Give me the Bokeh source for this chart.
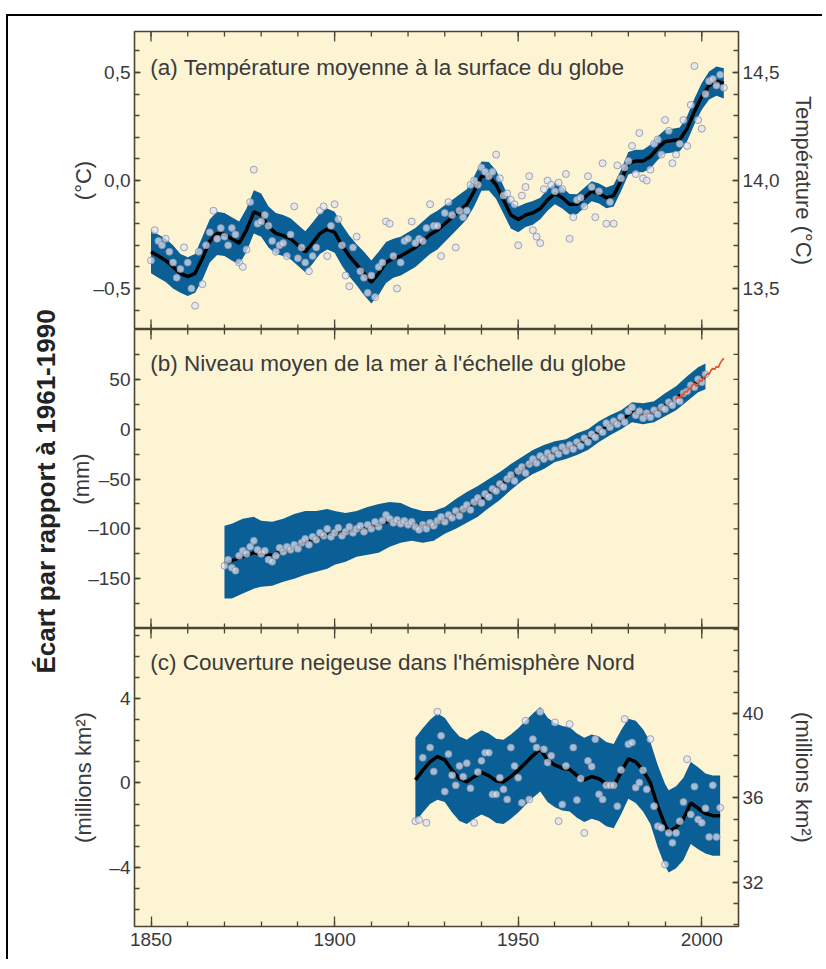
import math
import numpy as np
from bokeh.plotting import figure
from bokeh.layouts import row, column
from bokeh.models import Range1d, LinearAxis, FixedTicker, Label
from bokeh.embed import file_html
from bokeh.resources import INLINE

# ---------------- data ----------------
temp_years = list(range(1850, 2007))
temp_anom = [
    -0.37, -0.23, -0.28, -0.30, -0.27, -0.33, -0.38, -0.45, -0.41, -0.31,
    -0.38, -0.50, -0.58, -0.33, -0.48, -0.30, -0.24, -0.14, -0.27, -0.22,
    -0.26, -0.30, -0.22, -0.25, -0.38, -0.40, -0.32, -0.10, 0.05, -0.20,
    -0.19, -0.16, -0.21, -0.28, -0.33, -0.30, -0.29, -0.35, -0.25, -0.12,
    -0.36, -0.31, -0.38, -0.42, -0.35, -0.31, -0.14, -0.12, -0.35, -0.21,
    -0.11, -0.18, -0.30, -0.44, -0.49, -0.31, -0.26, -0.42, -0.45, -0.52,
    -0.44, -0.54, -0.40, -0.38, -0.19, -0.20, -0.35, -0.50, -0.38, -0.28,
    -0.27, -0.19, -0.29, -0.27, -0.28, -0.22, -0.11, -0.21, -0.21, -0.35,
    -0.15, -0.10, -0.16, -0.31, -0.14, -0.17, -0.14, -0.02, 0.00, -0.02,
    0.06, 0.04, 0.02, 0.04, 0.12, 0.01, -0.07, -0.06, -0.09, -0.11,
    -0.30, -0.07, -0.03, 0.02, -0.23, -0.26, -0.29, -0.04, 0.00, -0.02,
    -0.05, -0.01, -0.04, 0.03, -0.27, -0.17, -0.09, -0.08, -0.12, 0.02,
    -0.03, -0.17, -0.05, 0.08, -0.20, -0.10, -0.20, 0.07, 0.01, 0.06,
    0.09, 0.16, 0.03, 0.22, 0.01, 0.00, 0.05, 0.17, 0.19, 0.12,
    0.28, 0.23, 0.08, 0.12, 0.17, 0.28, 0.16, 0.35, 0.53, 0.28,
    0.24, 0.40, 0.46, 0.47, 0.44, 0.49, 0.43,
]
temp_knot_years = [
    1850, 1852, 1854, 1856, 1858, 1860, 1862, 1864, 1866, 1868,
    1870, 1872, 1874, 1876, 1878, 1880, 1882, 1884, 1886, 1888,
    1890, 1892, 1894, 1896, 1898, 1900, 1902, 1904, 1906, 1908,
    1910, 1912, 1914, 1916, 1918, 1920, 1922, 1924, 1926, 1928,
    1930, 1932, 1934, 1936, 1938, 1940, 1942, 1944, 1946, 1948,
    1950, 1952, 1954, 1956, 1958, 1960, 1962, 1964, 1966, 1968,
    1970, 1972, 1974, 1976, 1978, 1980, 1982, 1984, 1986, 1988,
    1990, 1992, 1994, 1996, 1998, 2000, 2002, 2004, 2006,
]
temp_smooth = [
    -0.33, -0.35, -0.37, -0.40, -0.43, -0.445, -0.43, -0.36, -0.28, -0.245,
    -0.25, -0.27, -0.29, -0.23, -0.145, -0.16, -0.215, -0.245, -0.255, -0.27,
    -0.30, -0.33, -0.29, -0.245, -0.225, -0.24, -0.30, -0.35, -0.39, -0.43,
    -0.47, -0.43, -0.38, -0.36, -0.35, -0.33, -0.31, -0.28, -0.25, -0.23,
    -0.20, -0.17, -0.14, -0.11, -0.05, 0.02, 0.02, -0.02, -0.09, -0.16,
    -0.18, -0.16, -0.15, -0.13, -0.09, -0.06, -0.08, -0.11, -0.11, -0.08,
    -0.05, -0.06, -0.08, -0.07, 0.00, 0.08, 0.09, 0.09, 0.11, 0.15,
    0.18, 0.185, 0.19, 0.24, 0.32, 0.39, 0.44, 0.46, 0.45,
]
temp_band_hw = [
    0.10, 0.10, 0.10, 0.10, 0.09, 0.09, 0.09, 0.10, 0.10, 0.10,
    0.10, 0.10, 0.10, 0.10, 0.10, 0.10, 0.095, 0.095, 0.095, 0.095,
    0.095, 0.095, 0.095, 0.095, 0.095, 0.095, 0.095, 0.095, 0.095, 0.10,
    0.10, 0.10, 0.095, 0.09, 0.09, 0.09, 0.09, 0.09, 0.09, 0.09,
    0.085, 0.08, 0.075, 0.07, 0.07, 0.068, 0.066, 0.066, 0.064, 0.062,
    0.06, 0.055, 0.055, 0.05, 0.05, 0.05, 0.05, 0.048, 0.046, 0.046,
    0.046, 0.046, 0.048, 0.05, 0.05, 0.052, 0.052, 0.052, 0.055, 0.055,
    0.055, 0.055, 0.055, 0.058, 0.06, 0.062, 0.065, 0.068, 0.07,
]

sl_years = list(range(1870, 2002))
sl_vals = [
    -137, -131, -139, -142, -127, -122, -125, -118, -112, -121,
    -125, -122, -131, -133, -127, -119, -123, -118, -121, -116,
    -120, -114, -110, -116, -108, -111, -104, -107, -100, -108,
    -104, -99, -107, -103, -98, -104, -100, -97, -103, -96,
    -100, -93, -98, -92, -86, -90, -94, -91, -95, -92,
    -96, -93, -98, -101, -96, -100, -94, -97, -92, -88,
    -93, -86, -89, -82, -87, -80, -76, -81, -73, -69,
    -74, -65, -68, -60, -62, -55, -58, -50, -46, -52,
    -42, -38, -44, -35, -30, -34, -27, -30, -24, -28,
    -21, -25, -18, -22, -16, -20, -13, -17, -9, -13,
    -5, -8, 0, -3, 6, 2, 8, 5, 12, 7,
    18, 22, 14, 18, 11, 16, 12, 19, 15, 22,
    20, 27, 24, 30, 28, 36, 38, 44, 42, 50,
    47, 55,
]
sl_knot_years = [
    1870, 1872, 1875, 1878, 1880, 1883, 1886, 1889, 1892, 1895,
    1898, 1900, 1903, 1906, 1909, 1912, 1915, 1918, 1921, 1924,
    1927, 1930, 1933, 1936, 1939, 1942, 1945, 1948, 1951, 1954,
    1957, 1960, 1963, 1966, 1969, 1972, 1975, 1978, 1981, 1984,
    1987, 1990, 1993, 1996, 1999, 2001,
]
sl_smooth = [
    -135, -132, -128, -124, -126, -126, -122, -119, -113, -110,
    -106, -105, -104, -101, -99, -96, -92, -93, -95, -97,
    -96, -90, -85, -79, -72, -64, -57, -48, -40, -33,
    -28, -23, -20, -15, -10, -2, 4, 9, 17, 15,
    17, 24, 31, 40, 49, 53,
]
sl_upper = [
    -97, -95, -90, -88, -92, -93, -90, -85, -82, -82,
    -80, -82, -84, -82, -78, -75, -73, -74, -79, -82,
    -82, -78, -70, -63, -57, -50, -43, -35, -28, -21,
    -16, -12, -10, -4, 0, 8, 14, 19, 27, 26,
    28, 36, 43, 53, 62, 66,
]
sl_lower = [
    -170, -170, -165, -160, -158, -157, -153, -150, -146, -143,
    -140, -136, -133, -128, -126, -124, -118, -114, -112, -114,
    -112, -105, -100, -94, -88, -79, -71, -61, -52, -45,
    -40, -33, -30, -26, -21, -13, -6, 0, 7, 5,
    7, 13, 19, 28, 37, 40,
]
alt_years = [
    1993.0, 1993.5, 1994.0, 1994.5, 1995.0, 1995.5, 1996.0, 1996.5, 1997.0,
    1997.5, 1998.0, 1998.5, 1999.0, 1999.5, 2000.0, 2000.5, 2001.0, 2001.5,
    2002.0, 2002.5, 2003.0, 2003.5, 2004.0, 2004.5, 2005.0, 2005.5, 2006.0,
]
alt_vals = [
    30, 33, 31, 35, 34, 38, 37, 41, 40,
    44, 46, 43, 45, 49, 48, 52, 53, 56,
    55, 59, 61, 60, 63, 62, 66, 69, 71,
]

snow_years = list(range(1922, 2006))
snow_vals = [
    -1.81, -1.75, 1.2, -1.89, 1.68, 0.54, 3.38, 2.24, -0.41, 1.37,
    0.37, -0.11, 0.81, 0.3, 0.94, -0.25, -1.89, 0.52, 1.05, 1.44,
    1.44, -0.54, -0.54, 0.25, -0.3, -0.78, 1.68, 0.81, 0.25, -0.94,
    2.95, -0.78, 2.08, 1.68, 3.38, 1.6, 0.97, 1.29, 2.87, -1.81,
    -1.02, 0.81, 2.79, 1.68, -0.81, 0.21, -2.37, 1.05, 0.78, 2.08,
    -0.54, -0.78, -0.11, -0.11, -0.11, -1.1, 0.62, 3.03, 1.84, 1.92,
    -0.22, 0.02, 0.6, -0.3, 2.08, -1.1, -2.05, -2.13, -3.87, -2.37,
    -2.84, -2.37, -1.81, -0.9, 1.13, -1.49, -0.17, -1.73, -1.89, -1.2,
    -2.56, -0.11, -2.56, -1.17,
]
snow_knot_years = [
    1922, 1924, 1926, 1928, 1930, 1932, 1934, 1936, 1938, 1940,
    1942, 1944, 1946, 1948, 1950, 1952, 1954, 1956, 1958, 1960,
    1962, 1964, 1966, 1968, 1970, 1972, 1974, 1976, 1978, 1980,
    1982, 1984, 1986, 1988, 1990, 1991, 1993, 1995, 1997, 1999,
    2001, 2003, 2005,
]
snow_smooth = [
    0.15, 0.6, 1.0, 1.25, 1.1, 0.6, 0.2, 0.05, 0.3, 0.5,
    0.35, 0.1, 0.05, 0.3, 0.6, 0.95, 1.3, 1.6, 1.1, 0.85,
    0.7, 0.65, 0.35, 0.15, 0.3, 0.2, -0.05, -0.15, 0.5, 1.15,
    1.0, 0.6, 0.0, -1.1, -2.0, -2.3, -2.1, -1.7, -0.95, -1.2,
    -1.45, -1.55, -1.55,
]
snow_band_hw = [
    2.0, 2.0, 2.0, 2.05, 2.0, 2.0, 2.0, 2.0, 2.0, 2.0,
    2.0, 2.0, 2.0, 2.0, 2.0, 2.0, 2.0, 2.0, 2.0, 2.0,
    2.0, 2.0, 2.0, 2.0, 2.0, 2.0, 2.0, 2.0, 2.0, 1.9,
    1.95, 1.95, 1.95, 1.95, 1.95, 1.95, 1.95, 1.95, 1.95, 1.95,
    1.9, 1.9, 1.9,
]

# tick values and labels
x_major = [1850, 1900, 1950, 2000]
x_minor = [1850, 1860, 1870, 1880, 1890, 1900, 1910, 1920, 1930, 1940,
           1950, 1960, 1970, 1980, 1990, 2000]
ta_major = [-0.5, 0.0, 0.5]
ta_labels = {-0.5: "–0,5", 0: "0,0", 0.5: "0,5"}
ta_minor = [-0.6, -0.5, -0.4, -0.3, -0.2, -0.1, 0.0, 0.1, 0.2, 0.3, 0.4, 0.5, 0.6]
tabs_major = [13.5, 14.0, 14.5]
tabs_labels = {13.5: "13,5", 14: "14,0", 14.5: "14,5"}
tabs_minor = [13.4, 13.5, 13.6, 13.7, 13.8, 13.9, 14.0, 14.1, 14.2, 14.3, 14.4, 14.5, 14.6]
sl_major = [-150, -100, -50, 0, 50]
sl_labels = {-150: "–150", -100: "–100", -50: "–50", 0: "0", 50: "50"}
sl_minor = [-175, -150, -125, -100, -75, -50, -25, 0, 25, 50, 75]
sc_major = [-4, 0, 4]
sc_labels = {-4: "–4", 0: "0", 4: "4"}
sc_minor = [-6, -5, -4, -3, -2, -1, 0, 1, 2, 3, 4, 5, 6, 7]
sabs_major = [32, 36, 40]
sabs_minor = [30, 31, 32, 33, 34, 35, 36, 37, 38, 39, 40, 41, 42, 43, 44]

# ---------------- style ----------------
FONT = "Liberation Sans"
CREAM = "#FDF4D4"
BAND = "#0A6096"
EDGE = "#4B4536"
TXT = "#3A3A3A"
FW, LB, RB = 604, 65, 84
SIDE_W = 58

XR = Range1d(1845.5, 2010.0)


def panel(y0, y1, frame_h, top_b, bot_b):
    p = figure(title=None, x_range=XR, y_range=Range1d(y0, y1),
               frame_width=FW, frame_height=frame_h,
               width=LB + FW + RB, height=top_b + frame_h + bot_b,
               min_border_left=LB, min_border_right=RB,
               min_border_top=top_b, min_border_bottom=bot_b,
               output_backend="svg", toolbar_location=None,
               x_axis_location=None, y_axis_location=None,
               background_fill_color=CREAM, border_fill_color="white",
               outline_line_color=EDGE, outline_line_width=1.6)
    p.grid.visible = False
    return p


def style_axis(ax, maj_in, min_in, size="19px"):
    ax.axis_line_color = None
    ax.major_tick_in = maj_in
    ax.major_tick_out = 0
    ax.minor_tick_in = min_in
    ax.minor_tick_out = 0
    ax.major_tick_line_color = EDGE
    ax.minor_tick_line_color = EDGE
    ax.major_tick_line_width = 1.3
    ax.minor_tick_line_width = 1.3
    ax.major_label_text_font = FONT
    ax.major_label_text_font_size = size
    ax.major_label_text_color = TXT
    ax.major_label_standoff = 4
    ax.axis_label_text_font = FONT
    ax.axis_label_text_font_style = "normal"
    ax.axis_label_text_color = TXT


def edge_ticks_x(p, y_edge):
    # tick marks on a panel edge without labels; the frame clips them to the inner half
    p.scatter(x_minor, [y_edge] * len(x_minor), marker="dash", angle=math.pi / 2,
              size=10, line_color=EDGE, line_width=1.3)
    p.scatter(x_major, [y_edge] * len(x_major), marker="dash", angle=math.pi / 2,
              size=20, line_color=EDGE, line_width=1.3)


def add_y_axis(p, loc, major, minor, overrides, label, label_size, standoff,
               range_name="default"):
    ax = LinearAxis(ticker=FixedTicker(ticks=major, minor_ticks=minor),
                    y_range_name=range_name)
    style_axis(ax, 6, 5)
    if overrides:
        ax.major_label_overrides = overrides
    ax.axis_label = label
    ax.axis_label_text_font_size = label_size
    ax.axis_label_standoff = standoff
    p.add_layout(ax, loc)


def title_label(p, y, txt):
    p.add_layout(Label(x=1849.8, y=y, text=txt, text_align="left",
                       text_baseline="middle", text_font=FONT,
                       text_font_size="22.5px", text_color=TXT))


def dots(p, x, y):
    p.scatter(x, y, size=7, marker="circle", fill_color="#DDE3F5", fill_alpha=0.72,
              line_color="#8C8EA0", line_width=0.8)


# ---------------- panel (a) temperature ----------------
pa = panel(-0.69, 0.69, 298, 15, 0)
pa.extra_y_ranges = {"abs": Range1d(13.31, 14.69)}
add_y_axis(pa, "left", ta_major, ta_minor, ta_labels, "(°C)", "22px", -5)
add_y_axis(pa, "right", tabs_major, tabs_minor, tabs_labels, "Température (°C)", "22px",
           9, range_name="abs")
ts = np.array(temp_smooth)
thw = np.array(temp_band_hw)
pa.varea(x=temp_knot_years, y1=ts - thw, y2=ts + thw, fill_color=BAND)
pa.line(temp_knot_years, temp_smooth, line_color="black", line_width=3.5)
dots(pa, temp_years, temp_anom)
edge_ticks_x(pa, 0.69)
edge_ticks_x(pa, -0.69)
title_label(pa, 0.525, "(a) Température moyenne à la surface du globe")

# ---------------- panel (b) sea level ----------------
pb = panel(-200, 100, 299, 0, 0)
add_y_axis(pb, "left", sl_major, sl_minor, sl_labels, "(mm)", "22px", -9)
pb.varea(x=sl_knot_years, y1=sl_lower, y2=sl_upper, fill_color=BAND)
pb.line(sl_knot_years, sl_smooth, line_color="black", line_width=3)
dots(pb, sl_years, sl_vals)
pb.line(alt_years, alt_vals, line_color="#E0512B", line_width=1.6)
edge_ticks_x(pb, 100)
edge_ticks_x(pb, -200)
pb.scatter([2010.0] * len(sl_minor), sl_minor, marker="dash", size=10,
           line_color=EDGE, line_width=1.3)
title_label(pb, 66, "(b) Niveau moyen de la mer à l'échelle du globe")

# ---------------- panel (c) snow cover ----------------
pc = panel(-6.81, 7.33, 298, 0, 33)
pc.extra_y_ranges = {"abs": Range1d(29.9, 44.04)}
bot = LinearAxis(ticker=FixedTicker(ticks=x_major, minor_ticks=x_minor))
style_axis(bot, 10, 5)
bot.major_label_standoff = 6
pc.add_layout(bot, "below")
add_y_axis(pc, "left", sc_major, sc_minor, sc_labels, "(millions km²)", "22px", 10)
add_y_axis(pc, "right", sabs_major, sabs_minor, None, "(millions km²)", "22px", 24,
           range_name="abs")
ss = np.array(snow_smooth)
shw = np.array(snow_band_hw)
pc.varea(x=snow_knot_years, y1=ss - shw, y2=ss + shw, fill_color=BAND)
pc.line(snow_knot_years, snow_smooth, line_color="black", line_width=3.5)
dots(pc, snow_years, snow_vals)
edge_ticks_x(pc, 7.33)
title_label(pc, 5.7, "(c) Couverture neigeuse dans l'hémisphère Nord")

# ---------------- left strip with the shared label ----------------
TOTAL_H = 313 + 299 + 331
side = figure(title=None, width=SIDE_W, height=TOTAL_H, x_range=Range1d(0, SIDE_W),
              y_range=Range1d(0, TOTAL_H), min_border=0,
              output_backend="svg", toolbar_location=None,
              x_axis_location=None, y_axis_location=None,
              outline_line_color=None, background_fill_color="white",
              border_fill_color="white")
side.grid.visible = False
side.add_layout(Label(x=37, y=468, text="Écart par rapport à 1961-1990",
                      angle=math.pi / 2, text_align="center", text_baseline="middle",
                      text_font=FONT, text_font_style="bold", text_font_size="26px",
                      text_color="#222222"))

root = row(side, column(pa, pb, pc),
           styles={"border-top": "2px solid black", "border-left": "2px solid black",
                   "margin-top": "14px", "margin-left": "6px"})

open("out.html", "w").write(file_html(root, INLINE))
